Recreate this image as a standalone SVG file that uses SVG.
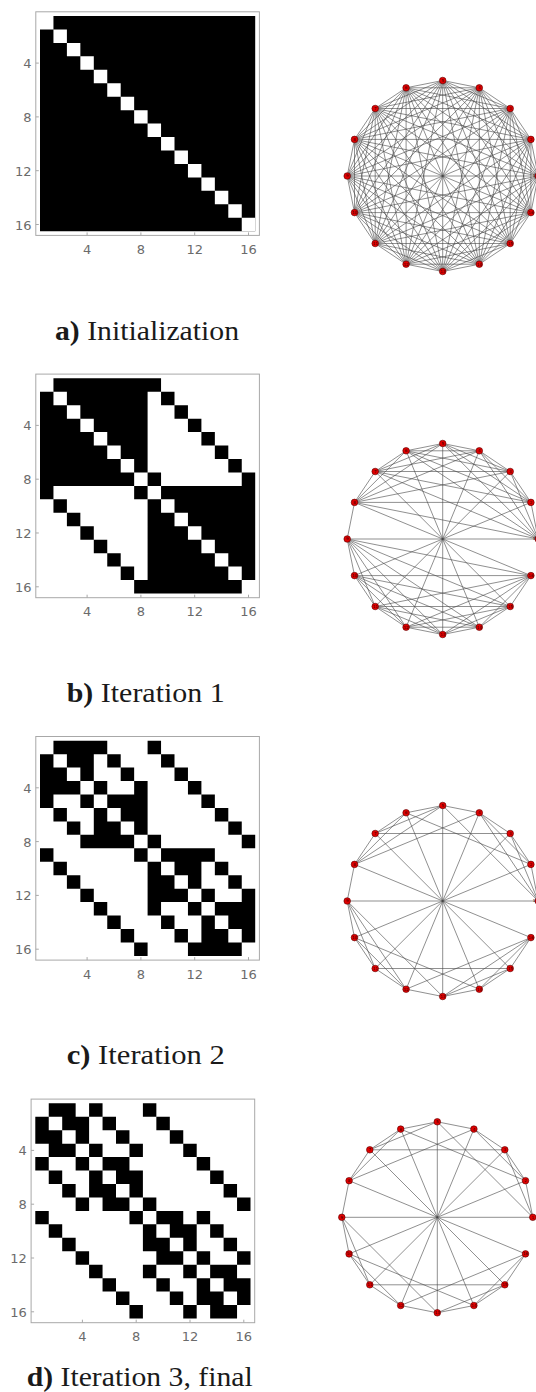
<svg xmlns="http://www.w3.org/2000/svg" width="536" height="1392" viewBox="0 0 536 1392">
<style>
.fr{fill:none;stroke:#a8a8a8;stroke-width:1}
.tk{fill:none;stroke:#a8a8a8;stroke-width:1}
.tl{font-family:"DejaVu Sans",sans-serif;font-size:13px;fill:#6b6b6b}
.tl .y{text-anchor:end}
.tl .x{text-anchor:middle}
.cells{fill:#000}
.e path{fill:none;stroke:#444;stroke-width:0.6}
.nd circle{fill:#e00000;stroke:#5a0000;stroke-width:0.6}
.nd text{font-family:"DejaVu Sans",sans-serif;font-size:4px;fill:#300;text-anchor:middle}
.cap{font-family:"Liberation Serif","DejaVu Serif",serif;font-size:28px;fill:#1a1a1a}
</style>
<rect width="536" height="1392" fill="#fff"/>

<!-- Matrix a -->
<g id="matrix-a" transform="translate(40,16)">
<rect class="fr" x="-4.2" y="-4.2" width="223.6" height="223.6"/>
<path class="tk" d="M-4.2,47.1h3M-4.2,100.9h3M-4.2,154.7h3M-4.2,208.5h3M47.1,219.4v-3M100.9,219.4v-3M154.7,219.4v-3M208.5,219.4v-3"/>
<g class="tl"><text class="y" x="-8.5" y="52.1">4</text><text class="y" x="-8.5" y="105.9">8</text><text class="y" x="-8.5" y="159.7">12</text><text class="y" x="-8.5" y="213.5">16</text>
<text class="x" x="47.1" y="238">4</text><text class="x" x="100.9" y="238">8</text><text class="x" x="154.7" y="238">12</text><text class="x" x="208.5" y="238">16</text></g>
<g transform="scale(13.45)">
<path class="cells" d="M0,0h16v16h-16z"/>
<path fill="#fff" d="M0,0h1v1h-1zM1,1h1v1h-1zM2,2h1v1h-1zM3,3h1v1h-1zM4,4h1v1h-1zM5,5h1v1h-1zM6,6h1v1h-1zM7,7h1v1h-1zM8,8h1v1h-1zM9,9h1v1h-1zM10,10h1v1h-1zM11,11h1v1h-1zM12,12h1v1h-1zM13,13h1v1h-1zM14,14h1v1h-1zM15,15h1v1h-1z"/>
</g>
</g>

<!-- Matrix b -->
<g id="matrix-b" transform="translate(40,378.3)">
<rect class="fr" x="-4.2" y="-4.2" width="223.6" height="223.6"/>
<path class="tk" d="M-4.2,47.1h3M-4.2,100.9h3M-4.2,154.7h3M-4.2,208.5h3M47.1,219.4v-3M100.9,219.4v-3M154.7,219.4v-3M208.5,219.4v-3"/>
<g class="tl"><text class="y" x="-8.5" y="52.1">4</text><text class="y" x="-8.5" y="105.9">8</text><text class="y" x="-8.5" y="159.7">12</text><text class="y" x="-8.5" y="213.5">16</text>
<text class="x" x="47.1" y="238">4</text><text class="x" x="100.9" y="238">8</text><text class="x" x="154.7" y="238">12</text><text class="x" x="208.5" y="238">16</text></g>
<g transform="scale(13.45)">
<path class="cells" d="M1,0h8v1h-8zM0,1h1v1h-1zM2,1h6v1h-6zM9,1h1v1h-1zM0,2h2v1h-2zM3,2h5v1h-5zM10,2h1v1h-1zM0,3h3v1h-3zM4,3h4v1h-4zM11,3h1v1h-1zM0,4h4v1h-4zM5,4h3v1h-3zM12,4h1v1h-1zM0,5h5v1h-5zM6,5h2v1h-2zM13,5h1v1h-1zM0,6h6v1h-6zM7,6h1v1h-1zM14,6h1v1h-1zM0,7h7v1h-7zM8,7h1v1h-1zM15,7h1v1h-1zM0,8h1v1h-1zM7,8h1v1h-1zM9,8h7v1h-7zM1,9h1v1h-1zM8,9h1v1h-1zM10,9h6v1h-6zM2,10h1v1h-1zM8,10h2v1h-2zM11,10h5v1h-5zM3,11h1v1h-1zM8,11h3v1h-3zM12,11h4v1h-4zM4,12h1v1h-1zM8,12h4v1h-4zM13,12h3v1h-3zM5,13h1v1h-1zM8,13h5v1h-5zM14,13h2v1h-2zM6,14h1v1h-1zM8,14h6v1h-6zM15,14h1v1h-1zM7,15h8v1h-8z"/>
</g>
</g>

<!-- Matrix c -->
<g id="matrix-c" transform="translate(40,740.7)">
<rect class="fr" x="-4.2" y="-4.2" width="223.6" height="223.6"/>
<path class="tk" d="M-4.2,47.1h3M-4.2,100.9h3M-4.2,154.7h3M-4.2,208.5h3M47.1,219.4v-3M100.9,219.4v-3M154.7,219.4v-3M208.5,219.4v-3"/>
<g class="tl"><text class="y" x="-8.5" y="52.1">4</text><text class="y" x="-8.5" y="105.9">8</text><text class="y" x="-8.5" y="159.7">12</text><text class="y" x="-8.5" y="213.5">16</text>
<text class="x" x="47.1" y="238">4</text><text class="x" x="100.9" y="238">8</text><text class="x" x="154.7" y="238">12</text><text class="x" x="208.5" y="238">16</text></g>
<g transform="scale(13.45)">
<path class="cells" d="M1,0h4v1h-4zM8,0h1v1h-1zM0,1h1v1h-1zM2,1h2v1h-2zM5,1h1v1h-1zM9,1h1v1h-1zM0,2h2v1h-2zM3,2h1v1h-1zM6,2h1v1h-1zM10,2h1v1h-1zM0,3h3v1h-3zM4,3h1v1h-1zM7,3h1v1h-1zM11,3h1v1h-1zM0,4h1v1h-1zM3,4h1v1h-1zM5,4h3v1h-3zM12,4h1v1h-1zM1,5h1v1h-1zM4,5h1v1h-1zM6,5h2v1h-2zM13,5h1v1h-1zM2,6h1v1h-1zM4,6h2v1h-2zM7,6h1v1h-1zM14,6h1v1h-1zM3,7h4v1h-4zM8,7h1v1h-1zM15,7h1v1h-1zM0,8h1v1h-1zM7,8h1v1h-1zM9,8h4v1h-4zM1,9h1v1h-1zM8,9h1v1h-1zM10,9h2v1h-2zM13,9h1v1h-1zM2,10h1v1h-1zM8,10h2v1h-2zM11,10h1v1h-1zM14,10h1v1h-1zM3,11h1v1h-1zM8,11h3v1h-3zM12,11h1v1h-1zM15,11h1v1h-1zM4,12h1v1h-1zM8,12h1v1h-1zM11,12h1v1h-1zM13,12h3v1h-3zM5,13h1v1h-1zM9,13h1v1h-1zM12,13h1v1h-1zM14,13h2v1h-2zM6,14h1v1h-1zM10,14h1v1h-1zM12,14h2v1h-2zM15,14h1v1h-1zM7,15h1v1h-1zM11,15h4v1h-4z"/>
</g>
</g>

<!-- Matrix d -->
<g id="matrix-d" transform="translate(35.3,1103.3)">
<rect class="fr" x="-4.2" y="-4.2" width="223.6" height="223.6"/>
<path class="tk" d="M-4.2,47.1h3M-4.2,100.9h3M-4.2,154.7h3M-4.2,208.5h3M47.1,219.4v-3M100.9,219.4v-3M154.7,219.4v-3M208.5,219.4v-3"/>
<g class="tl"><text class="y" x="-8.5" y="52.1">4</text><text class="y" x="-8.5" y="105.9">8</text><text class="y" x="-8.5" y="159.7">12</text><text class="y" x="-8.5" y="213.5">16</text>
<text class="x" x="47.1" y="238">4</text><text class="x" x="100.9" y="238">8</text><text class="x" x="154.7" y="238">12</text><text class="x" x="208.5" y="238">16</text></g>
<g transform="scale(13.45)">
<path class="cells" d="M1,0h2v1h-2zM4,0h1v1h-1zM8,0h1v1h-1zM0,1h1v1h-1zM2,1h2v1h-2zM5,1h1v1h-1zM9,1h1v1h-1zM0,2h2v1h-2zM3,2h1v1h-1zM6,2h1v1h-1zM10,2h1v1h-1zM1,3h2v1h-2zM4,3h1v1h-1zM7,3h1v1h-1zM11,3h1v1h-1zM0,4h1v1h-1zM3,4h1v1h-1zM5,4h2v1h-2zM12,4h1v1h-1zM1,5h1v1h-1zM4,5h1v1h-1zM6,5h2v1h-2zM13,5h1v1h-1zM2,6h1v1h-1zM4,6h2v1h-2zM7,6h1v1h-1zM14,6h1v1h-1zM3,7h1v1h-1zM5,7h2v1h-2zM8,7h1v1h-1zM15,7h1v1h-1zM0,8h1v1h-1zM7,8h1v1h-1zM9,8h2v1h-2zM12,8h1v1h-1zM1,9h1v1h-1zM8,9h1v1h-1zM10,9h2v1h-2zM13,9h1v1h-1zM2,10h1v1h-1zM8,10h2v1h-2zM11,10h1v1h-1zM14,10h1v1h-1zM3,11h1v1h-1zM9,11h2v1h-2zM12,11h1v1h-1zM15,11h1v1h-1zM4,12h1v1h-1zM8,12h1v1h-1zM11,12h1v1h-1zM13,12h2v1h-2zM5,13h1v1h-1zM9,13h1v1h-1zM12,13h1v1h-1zM14,13h2v1h-2zM6,14h1v1h-1zM10,14h1v1h-1zM12,14h2v1h-2zM15,14h1v1h-1zM7,15h1v1h-1zM11,15h1v1h-1zM13,15h2v1h-2z"/>
</g>
</g>

<!-- Graph a -->
<g id="graph-a" transform="translate(442.7,176)">
<g id="graph-a-connectors" class="e">
<path d="M95.5,0L88.2,-36.6"/><path d="M95.5,0L67.5,-67.5"/><path d="M95.5,0L36.6,-88.2"/><path d="M95.5,0L0,-95.5"/><path d="M95.5,0L-36.6,-88.2"/><path d="M95.5,0L-67.5,-67.5"/><path d="M95.5,0L-88.2,-36.6"/><path d="M95.5,0L-95.5,0"/><path d="M95.5,0L-88.2,36.6"/><path d="M95.5,0L-67.5,67.5"/><path d="M95.5,0L-36.6,88.2"/><path d="M95.5,0L0,95.5"/><path d="M95.5,0L36.6,88.2"/><path d="M95.5,0L67.5,67.5"/><path d="M95.5,0L88.2,36.6"/>
<path d="M88.2,-36.6L67.5,-67.5"/><path d="M88.2,-36.6L36.6,-88.2"/><path d="M88.2,-36.6L0,-95.5"/><path d="M88.2,-36.6L-36.6,-88.2"/><path d="M88.2,-36.6L-67.5,-67.5"/><path d="M88.2,-36.6L-88.2,-36.6"/><path d="M88.2,-36.6L-95.5,0"/><path d="M88.2,-36.6L-88.2,36.6"/><path d="M88.2,-36.6L-67.5,67.5"/><path d="M88.2,-36.6L-36.6,88.2"/><path d="M88.2,-36.6L0,95.5"/><path d="M88.2,-36.6L36.6,88.2"/><path d="M88.2,-36.6L67.5,67.5"/><path d="M88.2,-36.6L88.2,36.6"/>
<path d="M67.5,-67.5L36.6,-88.2"/><path d="M67.5,-67.5L0,-95.5"/><path d="M67.5,-67.5L-36.6,-88.2"/><path d="M67.5,-67.5L-67.5,-67.5"/><path d="M67.5,-67.5L-88.2,-36.6"/><path d="M67.5,-67.5L-95.5,0"/><path d="M67.5,-67.5L-88.2,36.6"/><path d="M67.5,-67.5L-67.5,67.5"/><path d="M67.5,-67.5L-36.6,88.2"/><path d="M67.5,-67.5L0,95.5"/><path d="M67.5,-67.5L36.6,88.2"/><path d="M67.5,-67.5L67.5,67.5"/><path d="M67.5,-67.5L88.2,36.6"/>
<path d="M36.6,-88.2L0,-95.5"/><path d="M36.6,-88.2L-36.6,-88.2"/><path d="M36.6,-88.2L-67.5,-67.5"/><path d="M36.6,-88.2L-88.2,-36.6"/><path d="M36.6,-88.2L-95.5,0"/><path d="M36.6,-88.2L-88.2,36.6"/><path d="M36.6,-88.2L-67.5,67.5"/><path d="M36.6,-88.2L-36.6,88.2"/><path d="M36.6,-88.2L0,95.5"/><path d="M36.6,-88.2L36.6,88.2"/><path d="M36.6,-88.2L67.5,67.5"/><path d="M36.6,-88.2L88.2,36.6"/>
<path d="M0,-95.5L-36.6,-88.2"/><path d="M0,-95.5L-67.5,-67.5"/><path d="M0,-95.5L-88.2,-36.6"/><path d="M0,-95.5L-95.5,0"/><path d="M0,-95.5L-88.2,36.6"/><path d="M0,-95.5L-67.5,67.5"/><path d="M0,-95.5L-36.6,88.2"/><path d="M0,-95.5L0,95.5"/><path d="M0,-95.5L36.6,88.2"/><path d="M0,-95.5L67.5,67.5"/><path d="M0,-95.5L88.2,36.6"/>
<path d="M-36.6,-88.2L-67.5,-67.5"/><path d="M-36.6,-88.2L-88.2,-36.6"/><path d="M-36.6,-88.2L-95.5,0"/><path d="M-36.6,-88.2L-88.2,36.6"/><path d="M-36.6,-88.2L-67.5,67.5"/><path d="M-36.6,-88.2L-36.6,88.2"/><path d="M-36.6,-88.2L0,95.5"/><path d="M-36.6,-88.2L36.6,88.2"/><path d="M-36.6,-88.2L67.5,67.5"/><path d="M-36.6,-88.2L88.2,36.6"/>
<path d="M-67.5,-67.5L-88.2,-36.6"/><path d="M-67.5,-67.5L-95.5,0"/><path d="M-67.5,-67.5L-88.2,36.6"/><path d="M-67.5,-67.5L-67.5,67.5"/><path d="M-67.5,-67.5L-36.6,88.2"/><path d="M-67.5,-67.5L0,95.5"/><path d="M-67.5,-67.5L36.6,88.2"/><path d="M-67.5,-67.5L67.5,67.5"/><path d="M-67.5,-67.5L88.2,36.6"/>
<path d="M-88.2,-36.6L-95.5,0"/><path d="M-88.2,-36.6L-88.2,36.6"/><path d="M-88.2,-36.6L-67.5,67.5"/><path d="M-88.2,-36.6L-36.6,88.2"/><path d="M-88.2,-36.6L0,95.5"/><path d="M-88.2,-36.6L36.6,88.2"/><path d="M-88.2,-36.6L67.5,67.5"/><path d="M-88.2,-36.6L88.2,36.6"/>
<path d="M-95.5,0L-88.2,36.6"/><path d="M-95.5,0L-67.5,67.5"/><path d="M-95.5,0L-36.6,88.2"/><path d="M-95.5,0L0,95.5"/><path d="M-95.5,0L36.6,88.2"/><path d="M-95.5,0L67.5,67.5"/><path d="M-95.5,0L88.2,36.6"/>
<path d="M-88.2,36.6L-67.5,67.5"/><path d="M-88.2,36.6L-36.6,88.2"/><path d="M-88.2,36.6L0,95.5"/><path d="M-88.2,36.6L36.6,88.2"/><path d="M-88.2,36.6L67.5,67.5"/><path d="M-88.2,36.6L88.2,36.6"/>
<path d="M-67.5,67.5L-36.6,88.2"/><path d="M-67.5,67.5L0,95.5"/><path d="M-67.5,67.5L36.6,88.2"/><path d="M-67.5,67.5L67.5,67.5"/><path d="M-67.5,67.5L88.2,36.6"/>
<path d="M-36.6,88.2L0,95.5"/><path d="M-36.6,88.2L36.6,88.2"/><path d="M-36.6,88.2L67.5,67.5"/><path d="M-36.6,88.2L88.2,36.6"/>
<path d="M0,95.5L36.6,88.2"/><path d="M0,95.5L67.5,67.5"/><path d="M0,95.5L88.2,36.6"/>
<path d="M36.6,88.2L67.5,67.5"/><path d="M36.6,88.2L88.2,36.6"/>
<path d="M67.5,67.5L88.2,36.6"/>
</g>
<g id="a-n1" class="nd" transform="translate(95.5,0)"><circle r="3.3"/><text x="-4.3" y="1.4">1</text></g>
<g id="a-n2" class="nd" transform="translate(88.2,-36.6)"><circle r="3.3"/><text y="1.4">2</text></g>
<g id="a-n3" class="nd" transform="translate(67.5,-67.5)"><circle r="3.3"/><text y="1.4">3</text></g>
<g id="a-n4" class="nd" transform="translate(36.6,-88.2)"><circle r="3.3"/><text y="1.4">4</text></g>
<g id="a-n5" class="nd" transform="translate(0,-95.5)"><circle r="3.3"/><text y="1.4">5</text></g>
<g id="a-n6" class="nd" transform="translate(-36.6,-88.2)"><circle r="3.3"/><text y="1.4">6</text></g>
<g id="a-n7" class="nd" transform="translate(-67.5,-67.5)"><circle r="3.3"/><text y="1.4">7</text></g>
<g id="a-n8" class="nd" transform="translate(-88.2,-36.6)"><circle r="3.3"/><text y="1.4">8</text></g>
<g id="a-n9" class="nd" transform="translate(-95.5,0)"><circle r="3.3"/><text y="1.4">9</text></g>
<g id="a-n10" class="nd" transform="translate(-88.2,36.6)"><circle r="3.3"/><text y="1.4">10</text></g>
<g id="a-n11" class="nd" transform="translate(-67.5,67.5)"><circle r="3.3"/><text y="1.4">11</text></g>
<g id="a-n12" class="nd" transform="translate(-36.6,88.2)"><circle r="3.3"/><text y="1.4">12</text></g>
<g id="a-n13" class="nd" transform="translate(0,95.5)"><circle r="3.3"/><text y="1.4">13</text></g>
<g id="a-n14" class="nd" transform="translate(36.6,88.2)"><circle r="3.3"/><text y="1.4">14</text></g>
<g id="a-n15" class="nd" transform="translate(67.5,67.5)"><circle r="3.3"/><text y="1.4">15</text></g>
<g id="a-n16" class="nd" transform="translate(88.2,36.6)"><circle r="3.3"/><text y="1.4">16</text></g>
</g>

<!-- Graph b -->
<g id="graph-b" transform="translate(442.7,539)">
<g id="graph-b-connectors" class="e">
<path d="M95.5,0L88.2,-36.6"/><path d="M95.5,0L67.5,-67.5"/><path d="M95.5,0L36.6,-88.2"/><path d="M95.5,0L0,-95.5"/><path d="M95.5,0L-36.6,-88.2"/><path d="M95.5,0L-67.5,-67.5"/><path d="M95.5,0L-88.2,-36.6"/>
<path d="M88.2,-36.6L67.5,-67.5"/><path d="M88.2,-36.6L36.6,-88.2"/><path d="M88.2,-36.6L0,-95.5"/><path d="M88.2,-36.6L-36.6,-88.2"/><path d="M88.2,-36.6L-67.5,-67.5"/><path d="M88.2,-36.6L-88.2,-36.6"/>
<path d="M67.5,-67.5L36.6,-88.2"/><path d="M67.5,-67.5L0,-95.5"/><path d="M67.5,-67.5L-36.6,-88.2"/><path d="M67.5,-67.5L-67.5,-67.5"/><path d="M67.5,-67.5L-88.2,-36.6"/>
<path d="M36.6,-88.2L0,-95.5"/><path d="M36.6,-88.2L-36.6,-88.2"/><path d="M36.6,-88.2L-67.5,-67.5"/><path d="M36.6,-88.2L-88.2,-36.6"/>
<path d="M0,-95.5L-36.6,-88.2"/><path d="M0,-95.5L-67.5,-67.5"/><path d="M0,-95.5L-88.2,-36.6"/>
<path d="M-36.6,-88.2L-67.5,-67.5"/><path d="M-36.6,-88.2L-88.2,-36.6"/>
<path d="M-67.5,-67.5L-88.2,-36.6"/>
<path d="M-95.5,0L-88.2,36.6"/><path d="M-95.5,0L-67.5,67.5"/><path d="M-95.5,0L-36.6,88.2"/><path d="M-95.5,0L0,95.5"/><path d="M-95.5,0L36.6,88.2"/><path d="M-95.5,0L67.5,67.5"/><path d="M-95.5,0L88.2,36.6"/>
<path d="M-88.2,36.6L-67.5,67.5"/><path d="M-88.2,36.6L-36.6,88.2"/><path d="M-88.2,36.6L0,95.5"/><path d="M-88.2,36.6L36.6,88.2"/><path d="M-88.2,36.6L67.5,67.5"/><path d="M-88.2,36.6L88.2,36.6"/>
<path d="M-67.5,67.5L-36.6,88.2"/><path d="M-67.5,67.5L0,95.5"/><path d="M-67.5,67.5L36.6,88.2"/><path d="M-67.5,67.5L67.5,67.5"/><path d="M-67.5,67.5L88.2,36.6"/>
<path d="M-36.6,88.2L0,95.5"/><path d="M-36.6,88.2L36.6,88.2"/><path d="M-36.6,88.2L67.5,67.5"/><path d="M-36.6,88.2L88.2,36.6"/>
<path d="M0,95.5L36.6,88.2"/><path d="M0,95.5L67.5,67.5"/><path d="M0,95.5L88.2,36.6"/>
<path d="M36.6,88.2L67.5,67.5"/><path d="M36.6,88.2L88.2,36.6"/>
<path d="M67.5,67.5L88.2,36.6"/>
<path d="M95.5,0L-95.5,0"/><path d="M88.2,-36.6L-88.2,36.6"/><path d="M67.5,-67.5L-67.5,67.5"/><path d="M36.6,-88.2L-36.6,88.2"/><path d="M0,-95.5L0,95.5"/><path d="M-36.6,-88.2L36.6,88.2"/><path d="M-67.5,-67.5L67.5,67.5"/><path d="M-88.2,-36.6L88.2,36.6"/>
<path d="M-88.2,-36.6L-95.5,0"/>
</g>
<g id="b-n1" class="nd" transform="translate(95.5,0)"><circle r="3.3"/><text x="-4.3" y="1.4">1</text></g>
<g id="b-n2" class="nd" transform="translate(88.2,-36.6)"><circle r="3.3"/><text y="1.4">2</text></g>
<g id="b-n3" class="nd" transform="translate(67.5,-67.5)"><circle r="3.3"/><text y="1.4">3</text></g>
<g id="b-n4" class="nd" transform="translate(36.6,-88.2)"><circle r="3.3"/><text y="1.4">4</text></g>
<g id="b-n5" class="nd" transform="translate(0,-95.5)"><circle r="3.3"/><text y="1.4">5</text></g>
<g id="b-n6" class="nd" transform="translate(-36.6,-88.2)"><circle r="3.3"/><text y="1.4">6</text></g>
<g id="b-n7" class="nd" transform="translate(-67.5,-67.5)"><circle r="3.3"/><text y="1.4">7</text></g>
<g id="b-n8" class="nd" transform="translate(-88.2,-36.6)"><circle r="3.3"/><text y="1.4">8</text></g>
<g id="b-n9" class="nd" transform="translate(-95.5,0)"><circle r="3.3"/><text y="1.4">9</text></g>
<g id="b-n10" class="nd" transform="translate(-88.2,36.6)"><circle r="3.3"/><text y="1.4">10</text></g>
<g id="b-n11" class="nd" transform="translate(-67.5,67.5)"><circle r="3.3"/><text y="1.4">11</text></g>
<g id="b-n12" class="nd" transform="translate(-36.6,88.2)"><circle r="3.3"/><text y="1.4">12</text></g>
<g id="b-n13" class="nd" transform="translate(0,95.5)"><circle r="3.3"/><text y="1.4">13</text></g>
<g id="b-n14" class="nd" transform="translate(36.6,88.2)"><circle r="3.3"/><text y="1.4">14</text></g>
<g id="b-n15" class="nd" transform="translate(67.5,67.5)"><circle r="3.3"/><text y="1.4">15</text></g>
<g id="b-n16" class="nd" transform="translate(88.2,36.6)"><circle r="3.3"/><text y="1.4">16</text></g>
</g>

<!-- Graph c -->
<g id="graph-c" transform="translate(442.7,901)">
<g id="graph-c-connectors" class="e">
<path d="M95.5,0L88.2,-36.6"/><path d="M95.5,0L67.5,-67.5"/><path d="M95.5,0L36.6,-88.2"/><path d="M95.5,0L0,-95.5"/><path d="M95.5,0L-95.5,0"/>
<path d="M88.2,-36.6L67.5,-67.5"/><path d="M88.2,-36.6L36.6,-88.2"/><path d="M88.2,-36.6L-36.6,-88.2"/><path d="M88.2,-36.6L-88.2,36.6"/>
<path d="M67.5,-67.5L36.6,-88.2"/><path d="M67.5,-67.5L-67.5,-67.5"/><path d="M67.5,-67.5L-67.5,67.5"/>
<path d="M36.6,-88.2L0,-95.5"/><path d="M36.6,-88.2L-88.2,-36.6"/><path d="M36.6,-88.2L-36.6,88.2"/>
<path d="M0,-95.5L-36.6,-88.2"/><path d="M0,-95.5L-67.5,-67.5"/><path d="M0,-95.5L-88.2,-36.6"/><path d="M0,-95.5L0,95.5"/>
<path d="M-36.6,-88.2L-67.5,-67.5"/><path d="M-36.6,-88.2L-88.2,-36.6"/><path d="M-36.6,-88.2L36.6,88.2"/>
<path d="M-67.5,-67.5L-88.2,-36.6"/><path d="M-67.5,-67.5L67.5,67.5"/>
<path d="M-88.2,-36.6L-95.5,0"/><path d="M-88.2,-36.6L88.2,36.6"/>
<path d="M-95.5,0L-88.2,36.6"/><path d="M-95.5,0L-67.5,67.5"/><path d="M-95.5,0L-36.6,88.2"/><path d="M-95.5,0L0,95.5"/>
<path d="M-88.2,36.6L-67.5,67.5"/><path d="M-88.2,36.6L-36.6,88.2"/><path d="M-88.2,36.6L36.6,88.2"/>
<path d="M-67.5,67.5L-36.6,88.2"/><path d="M-67.5,67.5L67.5,67.5"/>
<path d="M-36.6,88.2L0,95.5"/><path d="M-36.6,88.2L88.2,36.6"/>
<path d="M0,95.5L36.6,88.2"/><path d="M0,95.5L67.5,67.5"/><path d="M0,95.5L88.2,36.6"/>
<path d="M36.6,88.2L67.5,67.5"/><path d="M36.6,88.2L88.2,36.6"/>
<path d="M67.5,67.5L88.2,36.6"/>
</g>
<g id="c-n1" class="nd" transform="translate(95.5,0)"><circle r="3.3"/><text x="-4.3" y="1.4">1</text></g>
<g id="c-n2" class="nd" transform="translate(88.2,-36.6)"><circle r="3.3"/><text y="1.4">2</text></g>
<g id="c-n3" class="nd" transform="translate(67.5,-67.5)"><circle r="3.3"/><text y="1.4">3</text></g>
<g id="c-n4" class="nd" transform="translate(36.6,-88.2)"><circle r="3.3"/><text y="1.4">4</text></g>
<g id="c-n5" class="nd" transform="translate(0,-95.5)"><circle r="3.3"/><text y="1.4">5</text></g>
<g id="c-n6" class="nd" transform="translate(-36.6,-88.2)"><circle r="3.3"/><text y="1.4">6</text></g>
<g id="c-n7" class="nd" transform="translate(-67.5,-67.5)"><circle r="3.3"/><text y="1.4">7</text></g>
<g id="c-n8" class="nd" transform="translate(-88.2,-36.6)"><circle r="3.3"/><text y="1.4">8</text></g>
<g id="c-n9" class="nd" transform="translate(-95.5,0)"><circle r="3.3"/><text y="1.4">9</text></g>
<g id="c-n10" class="nd" transform="translate(-88.2,36.6)"><circle r="3.3"/><text y="1.4">10</text></g>
<g id="c-n11" class="nd" transform="translate(-67.5,67.5)"><circle r="3.3"/><text y="1.4">11</text></g>
<g id="c-n12" class="nd" transform="translate(-36.6,88.2)"><circle r="3.3"/><text y="1.4">12</text></g>
<g id="c-n13" class="nd" transform="translate(0,95.5)"><circle r="3.3"/><text y="1.4">13</text></g>
<g id="c-n14" class="nd" transform="translate(36.6,88.2)"><circle r="3.3"/><text y="1.4">14</text></g>
<g id="c-n15" class="nd" transform="translate(67.5,67.5)"><circle r="3.3"/><text y="1.4">15</text></g>
<g id="c-n16" class="nd" transform="translate(88.2,36.6)"><circle r="3.3"/><text y="1.4">16</text></g>
</g>

<!-- Graph d -->
<g id="graph-d" transform="translate(437.3,1217.3)">
<g id="graph-d-connectors" class="e">
<path d="M95.5,0L88.2,-36.6"/><path d="M95.5,0L67.5,-67.5"/><path d="M95.5,0L0,-95.5"/><path d="M95.5,0L-95.5,0"/>
<path d="M88.2,-36.6L67.5,-67.5"/><path d="M88.2,-36.6L36.6,-88.2"/><path d="M88.2,-36.6L-36.6,-88.2"/><path d="M88.2,-36.6L-88.2,36.6"/>
<path d="M67.5,-67.5L36.6,-88.2"/><path d="M67.5,-67.5L-67.5,-67.5"/><path d="M67.5,-67.5L-67.5,67.5"/>
<path d="M36.6,-88.2L0,-95.5"/><path d="M36.6,-88.2L-88.2,-36.6"/><path d="M36.6,-88.2L-36.6,88.2"/>
<path d="M0,-95.5L-36.6,-88.2"/><path d="M0,-95.5L-67.5,-67.5"/><path d="M0,-95.5L0,95.5"/>
<path d="M-36.6,-88.2L-67.5,-67.5"/><path d="M-36.6,-88.2L-88.2,-36.6"/><path d="M-36.6,-88.2L36.6,88.2"/>
<path d="M-67.5,-67.5L-88.2,-36.6"/><path d="M-67.5,-67.5L67.5,67.5"/>
<path d="M-88.2,-36.6L-95.5,0"/><path d="M-88.2,-36.6L88.2,36.6"/>
<path d="M-95.5,0L-88.2,36.6"/><path d="M-95.5,0L-67.5,67.5"/><path d="M-95.5,0L0,95.5"/>
<path d="M-88.2,36.6L-67.5,67.5"/><path d="M-88.2,36.6L-36.6,88.2"/><path d="M-88.2,36.6L36.6,88.2"/>
<path d="M-67.5,67.5L-36.6,88.2"/><path d="M-67.5,67.5L67.5,67.5"/>
<path d="M-36.6,88.2L0,95.5"/><path d="M-36.6,88.2L88.2,36.6"/>
<path d="M0,95.5L36.6,88.2"/><path d="M0,95.5L67.5,67.5"/>
<path d="M36.6,88.2L67.5,67.5"/><path d="M36.6,88.2L88.2,36.6"/>
<path d="M67.5,67.5L88.2,36.6"/>
</g>
<g id="d-n1" class="nd" transform="translate(95.5,0)"><circle r="3.3"/><text y="1.4">1</text></g>
<g id="d-n2" class="nd" transform="translate(88.2,-36.6)"><circle r="3.3"/><text y="1.4">2</text></g>
<g id="d-n3" class="nd" transform="translate(67.5,-67.5)"><circle r="3.3"/><text y="1.4">3</text></g>
<g id="d-n4" class="nd" transform="translate(36.6,-88.2)"><circle r="3.3"/><text y="1.4">4</text></g>
<g id="d-n5" class="nd" transform="translate(0,-95.5)"><circle r="3.3"/><text y="1.4">5</text></g>
<g id="d-n6" class="nd" transform="translate(-36.6,-88.2)"><circle r="3.3"/><text y="1.4">6</text></g>
<g id="d-n7" class="nd" transform="translate(-67.5,-67.5)"><circle r="3.3"/><text y="1.4">7</text></g>
<g id="d-n8" class="nd" transform="translate(-88.2,-36.6)"><circle r="3.3"/><text y="1.4">8</text></g>
<g id="d-n9" class="nd" transform="translate(-95.5,0)"><circle r="3.3"/><text y="1.4">9</text></g>
<g id="d-n10" class="nd" transform="translate(-88.2,36.6)"><circle r="3.3"/><text y="1.4">10</text></g>
<g id="d-n11" class="nd" transform="translate(-67.5,67.5)"><circle r="3.3"/><text y="1.4">11</text></g>
<g id="d-n12" class="nd" transform="translate(-36.6,88.2)"><circle r="3.3"/><text y="1.4">12</text></g>
<g id="d-n13" class="nd" transform="translate(0,95.5)"><circle r="3.3"/><text y="1.4">13</text></g>
<g id="d-n14" class="nd" transform="translate(36.6,88.2)"><circle r="3.3"/><text y="1.4">14</text></g>
<g id="d-n15" class="nd" transform="translate(67.5,67.5)"><circle r="3.3"/><text y="1.4">15</text></g>
<g id="d-n16" class="nd" transform="translate(88.2,36.6)"><circle r="3.3"/><text y="1.4">16</text></g>
</g>

<!-- Captions -->
<g id="captions">
<text class="cap" x="55" y="339.5" textLength="184" lengthAdjust="spacingAndGlyphs"><tspan font-weight="bold">a)</tspan> Initialization</text>
<text class="cap" x="66.7" y="701.7" textLength="158" lengthAdjust="spacingAndGlyphs"><tspan font-weight="bold">b)</tspan> Iteration 1</text>
<text class="cap" x="66.7" y="1064" textLength="158" lengthAdjust="spacingAndGlyphs"><tspan font-weight="bold">c)</tspan> Iteration 2</text>
<text class="cap" x="26.7" y="1386" textLength="226" lengthAdjust="spacingAndGlyphs"><tspan font-weight="bold">d)</tspan> Iteration 3, final</text>
</g>
</svg>
